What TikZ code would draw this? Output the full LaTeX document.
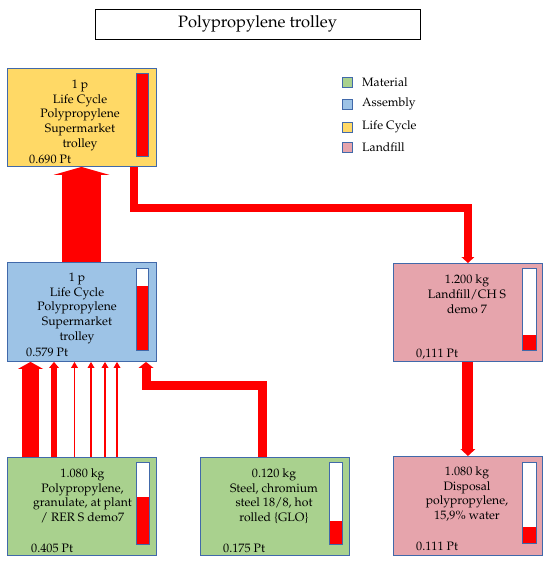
\documentclass[tikz,border=0pt]{standalone}
\usepackage[T1]{fontenc}
\usepackage{mathpazo}
\usetikzlibrary{arrows.meta}
\definecolor{cGreen}{RGB}{169,209,142}
\definecolor{cBlue}{RGB}{157,195,230}
\definecolor{cYellow}{RGB}{255,217,102}
\definecolor{cPink}{RGB}{230,164,172}
\definecolor{cEdge}{RGB}{65,105,170}
\definecolor{cRed}{RGB}{255,0,0}
\newcommand{\boxlines}[1]{\fontsize{12.2}{14.6}\selectfont\begin{tabular}{@{}c@{}}#1\end{tabular}}
\begin{document}
\begin{tikzpicture}[x=1pt,y=-1pt,
  box/.style={draw=cEdge, line width=0.9pt, anchor=north west, inner sep=0pt},
  txt/.style={inner sep=0pt},
  ptlabel/.style={anchor=west, inner sep=0pt, font=\fontsize{12.2}{14.6}\selectfont},
  legsq/.style={draw=cEdge, line width=0.9pt, minimum size=10pt, inner sep=0pt},
  legtxt/.style={anchor=west, inner sep=0pt, font=\fontsize{12.2}{14.6}\selectfont},
  barframe/.style={draw=cEdge, line width=0.6pt},
  flow/.style={draw=cRed, line join=miter},
]
\useasboundingbox (0,0) rectangle (550,563);

% title
\node[draw=black, line width=0.9pt, minimum width=325pt, minimum height=30pt, inner sep=0pt,
      font=\fontsize{16.5}{19}\selectfont] (title) at (257.5,24) {Polypropylene trolley};

% boxes
\node[box, fill=cYellow, minimum width=149pt, minimum height=98pt] (lc) at (7,68) {};
\node[box, fill=cBlue, minimum width=149pt, minimum height=99pt] (asm) at (7,262) {};
\node[box, fill=cGreen, minimum width=149pt, minimum height=98pt] (pp) at (7,457) {};
\node[box, fill=cGreen, minimum width=149pt, minimum height=98pt] (st) at (200,457) {};
\node[box, fill=cPink, minimum width=149pt, minimum height=98pt] (lf1) at (393,263) {};
\node[box, fill=cPink, minimum width=149pt, minimum height=99pt] (lf2) at (393,456) {};

% bars
\fill[cRed] (136,73) rectangle (148,156);
\draw[barframe] (136,73) rectangle (148,156);
\fill[white] (136,268) rectangle (148,350);
\fill[cRed] (136,286) rectangle (148,350);
\draw[barframe] (136,268) rectangle (148,350);
\fill[white] (136,462) rectangle (149,544);
\fill[cRed] (136,497) rectangle (149,544);
\draw[barframe] (136,462) rectangle (149,544);
\fill[white] (329,462) rectangle (342,544);
\fill[cRed] (329,521) rectangle (342,544);
\draw[barframe] (329,462) rectangle (342,544);
\fill[white] (522,268) rectangle (536,350);
\fill[cRed] (522,335) rectangle (536,350);
\draw[barframe] (522,268) rectangle (536,350);
\fill[white] (522,462) rectangle (536,543);
\fill[cRed] (522,527) rectangle (536,543);
\draw[barframe] (522,462) rectangle (536,543);

% texts
\node[txt] (lct) at (80,115) {\boxlines{1 p\\Life Cycle\\Polypropylene\\Supermarket\\trolley}};
\node[ptlabel] (lcp) at (29,159) {0.690 Pt};
\node[txt] (asmt) at (77,308) {\boxlines{1 p\\Life Cycle\\Polypropylene\\Supermarket\\trolley}};
\node[ptlabel] (asmp) at (26,352) {0.579 Pt};
\node[txt] (ppt) at (82.5,496.5) {\boxlines{1.080 kg\\Polypropylene,\\granulate, at plant\\/ RER S demo7}};
\node[ptlabel] (ppp) at (31,548) {0.405 Pt};
\node[txt] (stt) at (274,496.5) {\boxlines{0.120 kg\\Steel, chromium\\steel 18/8, hot\\rolled \{GLO\}}};
\node[ptlabel] (stp) at (223,548) {0.175 Pt};
\node[txt] (lf1t) at (467,295.5) {\boxlines{1.200 kg\\Landfill/CH S\\demo 7}};
\node[ptlabel] (lf1p) at (416,354) {0,111 Pt};
\node[txt] (lf2t) at (467,494.5) {\boxlines{1.080 kg\\Disposal\\polypropylene,\\15,9\% water}};
\node[ptlabel] (lf2p) at (416,546) {0.111 Pt};

% legend
\node[legsq, fill=cGreen] (lg1) at (347,82) {};
\node[legtxt] (lg1t) at (362,82) {Material};
\node[legsq, fill=cBlue] (lg2) at (347,104) {};
\node[legtxt] (lg2t) at (362,104) {Assembly};
\node[legsq, fill=cYellow] (lg3) at (347,127) {};
\node[legtxt] (lg3t) at (362,127) {Life Cycle};
\node[legsq, fill=cPink] (lg4) at (347,147) {};
\node[legtxt] (lg4t) at (362,147) {Landfill};

% flows
\draw[flow, line width=39pt, -{Triangle[width=56pt,length=8pt,line width=0pt]}]
  ([xshift=74.5pt]asm.north west) -- ([xshift=74.5pt]lc.south west);
\draw[flow, line width=8.5pt, -{Triangle[width=13pt,length=6pt,line width=0pt]}]
  ([xshift=127pt]lc.south west) -- ++(0,41) -| (lf1.north);
\draw[flow, line width=11pt, -{Triangle[width=15pt,length=7pt,line width=0pt]}]
  (lf1.south) -- (lf2.north);
\draw[flow, line width=17pt, -{Triangle[width=25pt,length=7pt,line width=0pt]}]
  ([xshift=23.5pt]pp.north west) -- ([xshift=23.5pt]asm.south west);
\draw[flow, line width=6pt, -{Triangle[width=10pt,length=6pt,line width=0pt]}]
  ([xshift=47pt]pp.north west) -- ([xshift=47pt]asm.south west);
\foreach \xx in {67.5,84,98,110}{
  \draw[flow, line width=1.8pt, -{Triangle[width=7pt,length=6pt,line width=0pt]}]
    ([xshift=\xx pt]pp.north west) -- ([xshift=\xx pt]asm.south west);
}
\draw[flow, line width=9pt, -{Triangle[width=15pt,length=6pt,line width=0pt]}]
  ([xshift=62pt]st.north west) -- ++(0,-72) -| ([xshift=139pt]asm.south west);
\end{tikzpicture}
\end{document}
